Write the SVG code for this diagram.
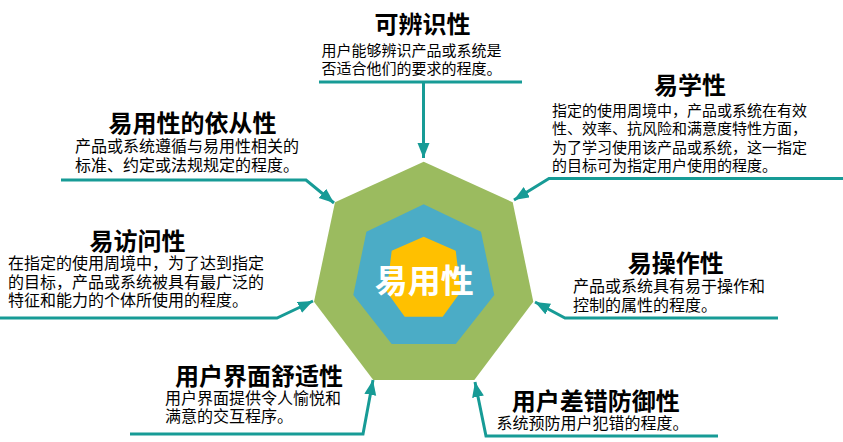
<svg xmlns="http://www.w3.org/2000/svg" width="843" height="442" viewBox="0 0 843 442">
<style>
.t{font-family:"Noto Sans CJK SC","Noto Sans",sans-serif;font-weight:700;fill:#000;text-anchor:middle;font-size:24px}
.d{font-family:"Noto Sans CJK SC","Noto Sans",sans-serif;fill:#000}
.c{fill:none;stroke:#179B96;stroke-width:3;stroke-linejoin:miter}
</style>
<defs>
<marker id="ah" markerUnits="userSpaceOnUse" markerWidth="16" markerHeight="14" refX="15" refY="6" orient="auto">
<path d="M0,0 L15,6 L0,12 Z" fill="#179B96"/>
</marker>
</defs>
<rect width="843" height="442" fill="#fff"/>
<g id="center">
<polygon points="423.7,161.7 512.7,202.3 533.3,301.7 474.3,380 373.3,380 314,301.7 335,202.3" fill="#9BBB5F"/>
<polygon points="423.7,204.3 481,231.7 494.3,295 455.7,344 391.7,344 353.3,295 366.4,231.7" fill="#4BACC6"/>
<polygon points="423.7,236.7 455.7,250.7 460.7,291.7 442.7,316.7 404.7,316.7 386.7,291.7 391.7,250.7" fill="#FFC000"/>
<text x="424.2" y="293" font-family="Noto Sans CJK SC, sans-serif" font-weight="700" font-size="33" fill="#fff" text-anchor="middle">易用性</text>
</g>
<g id="connectors">
<line class="c" x1="319" y1="82" x2="522" y2="82"/>
<polyline class="c" points="423.5,82 423.5,158" marker-end="url(#ah)"/>
<polyline class="c" points="843,178.5 549,178.5 514,200" marker-end="url(#ah)"/>
<polyline class="c" points="61,180 306,180 334,203" marker-end="url(#ah)"/>
<polyline class="c" points="0,318 277,318 313,301" marker-end="url(#ah)"/>
<polyline class="c" points="778,318 565,318 535,302" marker-end="url(#ah)"/>
<polyline class="c" points="130,434 363,434 373,380" marker-end="url(#ah)"/>
<polyline class="c" points="718,436 486,436 475,382" marker-end="url(#ah)"/>
</g>
<g id="n-recognizability">
<text class="t" x="422.5" y="33">可辨识性</text>
<text class="d" font-size="15" x="321.5" y="55.5">用户能够辨识产品或系统是</text>
<text class="d" font-size="15" x="321.5" y="74">否适合他们的要求的程度。</text>
</g>
<g id="n-learnability">
<text class="t" x="690" y="94">易学性</text>
<text class="d" font-size="15" x="552" y="115.5">指定的使用周境中，产品或系统在有效</text>
<text class="d" font-size="15" x="552" y="134">性、效率、抗风险和满意度特性方面，</text>
<text class="d" font-size="15" x="552" y="152.5">为了学习使用该产品或系统，这一指定</text>
<text class="d" font-size="15" x="552" y="171">的目标可为指定用户使用的程度。</text>
</g>
<g id="n-compliance">
<text class="t" x="192.5" y="131.5">易用性的依从性</text>
<text class="d" font-size="16" x="75" y="152">产品或系统遵循与易用性相关的</text>
<text class="d" font-size="16" x="75" y="170.5">标准、约定或法规规定的程度。</text>
</g>
<g id="n-accessibility">
<text class="t" x="137.5" y="250">易访问性</text>
<text class="d" font-size="16" x="8" y="269">在指定的使用周境中，为了达到指定</text>
<text class="d" font-size="16" x="8" y="287.5">的目标，产品或系统被具有最广泛的</text>
<text class="d" font-size="16" x="8" y="306">特征和能力的个体所使用的程度。</text>
</g>
<g id="n-operability">
<text class="t" x="675.8" y="271.5">易操作性</text>
<text class="d" font-size="16" x="573" y="292">产品或系统具有易于操作和</text>
<text class="d" font-size="16" x="573" y="310.5">控制的属性的程度。</text>
</g>
<g id="n-ui-comfort">
<text class="t" x="259" y="385">用户界面舒适性</text>
<text class="d" font-size="16" x="165" y="404">用户界面提供令人愉悦和</text>
<text class="d" font-size="16" x="165" y="422">满意的交互程序。</text>
</g>
<g id="n-error-protection">
<text class="t" x="595.8" y="410">用户差错防御性</text>
<text class="d" font-size="16" x="496.5" y="429">系统预防用户犯错的程度。</text>
</g>
</svg>
